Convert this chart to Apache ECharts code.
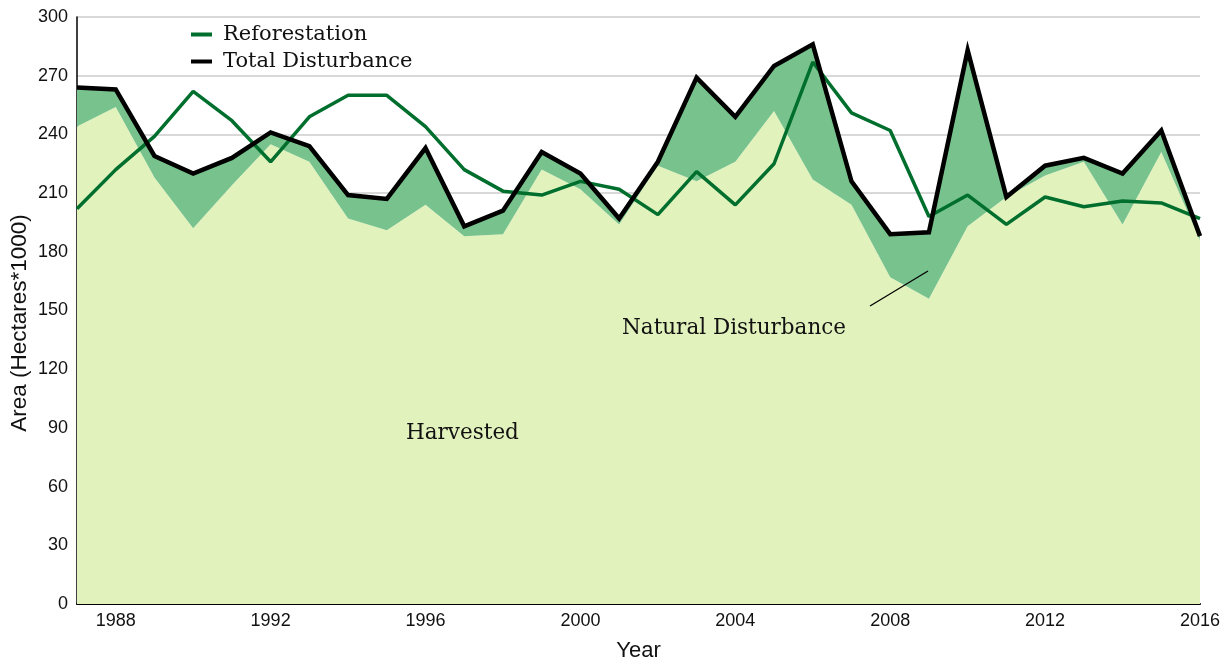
<!DOCTYPE html>
<html>
<head>
<meta charset="utf-8">
<style>
  html, body { margin: 0; padding: 0; background: #fff; }
  #chart { width: 1228px; height: 661px; }
</style>
<script src="https://cdn.jsdelivr.net/npm/echarts@6/dist/echarts.min.js"></script>
</head>
<body>
<div id="chart"></div>
<script>
// ---- data (area, hectares * 1000) ----
const years = [];
for (let y = 1987; y <= 2016; y++) years.push(String(y));

const harvested = [244, 254, 218, 192, 214, 235, 226, 197, 191, 204,
    188, 189, 222, 212, 194, 224, 216, 226, 252, 217,
    204, 167, 156, 193, 208, 219, 226, 194, 231, 186];

const totalDisturbance = [264, 263, 229, 220, 228, 241, 234, 209, 207, 233,
    193, 201, 231, 220, 197, 226, 269, 249, 275, 286,
    216, 189, 190, 283, 208, 224, 228, 220, 242, 188];

const reforestation = [202, 222, 239, 262, 247, 226, 249, 260, 260, 244,
    222, 211, 209, 216, 212, 199, 221, 204, 225, 277,
    251, 242, 198, 209, 194, 208, 203, 206, 205, 197];

// natural = total - harvested, stacked on top of harvested
const natural = totalDisturbance.map((t, i) => t - harvested[i]);

const SERIF = '"DejaVu Serif", "Liberation Serif", serif';
const SANS = '"Liberation Sans", Arial, sans-serif';

const chart = echarts.init(document.getElementById('chart'));
chart.setOption({
    animation: false,
    backgroundColor: '#fff',
    grid: { left: 77, right: 28, top: 17, bottom: 57, outerBoundsMode: 'none', containLabel: false },
    legend: {
        orient: 'vertical',
        left: 186,
        top: 19,
        itemWidth: 21,
        itemHeight: 4,
        itemGap: 6,
        icon: 'rect',
        textStyle: { fontFamily: SERIF, fontSize: 21, color: '#111', padding: [0, 0, 0, 6] },
        data: ['Reforestation', 'Total Disturbance'],
    },
    xAxis: {
        type: 'category',
        data: years,
        boundaryGap: false,
        name: 'Year',
        nameLocation: 'middle',
        nameGap: 36,
        nameTextStyle: { fontFamily: SANS, fontSize: 22, color: '#111' },
        axisLine: { lineStyle: { color: '#000', width: 2 } },
        axisTick: { show: false },
        axisLabel: {
            fontFamily: SANS, fontSize: 18, color: '#111', margin: 8,
            interval: (i, v) => Number(v) % 4 === 0,
        },
        splitLine: { show: false },
    },
    yAxis: {
        type: 'value',
        min: 0, max: 300, interval: 30,
        axisLine: { show: true, lineStyle: { color: '#000', width: 1.5 } },
        axisTick: { show: false },
        axisLabel: { fontFamily: SANS, fontSize: 18, color: '#111', margin: 9 },
        splitLine: { lineStyle: { color: '#cccccc', width: 1.5 } },
    },
    series: [
        {
            name: 'Harvested',
            type: 'line',
            stack: 'dist',
            data: harvested,
            symbol: 'none',
            lineStyle: { width: 0 },
            areaStyle: { color: '#e2f2bd', opacity: 1 },
            z: 1,
        },
        {
            name: 'Natural Disturbance',
            type: 'line',
            stack: 'dist',
            data: natural,
            symbol: 'none',
            lineStyle: { width: 0 },
            areaStyle: { color: '#78c38d', opacity: 1 },
            z: 1,
        },
        {
            name: 'Reforestation',
            type: 'line',
            data: reforestation,
            symbol: 'none',
            itemStyle: { color: '#006f2e' },
            lineStyle: { color: '#006f2e', width: 3.5 },
            z: 3,
        },
        {
            name: 'Total Disturbance',
            type: 'line',
            data: totalDisturbance,
            symbol: 'none',
            itemStyle: { color: '#000' },
            lineStyle: { color: '#000', width: 4.5, join: 'miter' },
            z: 4,
        },
    ],
    graphic: {
        elements: [
            // y axis title, a bit below the plot centre as in the original
            {
                type: 'text', x: 20, y: 323, rotation: Math.PI / 2, z: 100,
                style: {
                    text: 'Area (Hectares*1000)', fontFamily: SANS, fontSize: 22.5, fill: '#111',
                    align: 'center', verticalAlign: 'middle',
                },
            },
            {
                type: 'text', x: 622, y: 317, z: 100,
                style: { text: 'Natural Disturbance', fontFamily: SERIF, fontSize: 21.5, fill: '#111' },
            },
            {
                type: 'text', x: 406, y: 422, z: 100,
                style: { text: 'Harvested', fontFamily: SERIF, fontSize: 21.5, fill: '#111' },
            },
            {
                type: 'line', z: 100,
                shape: { x1: 870, y1: 306, x2: 928, y2: 271 },
                style: { stroke: '#000', lineWidth: 1.3 },
            },
        ],
    },
});
</script>
</body>
</html>
